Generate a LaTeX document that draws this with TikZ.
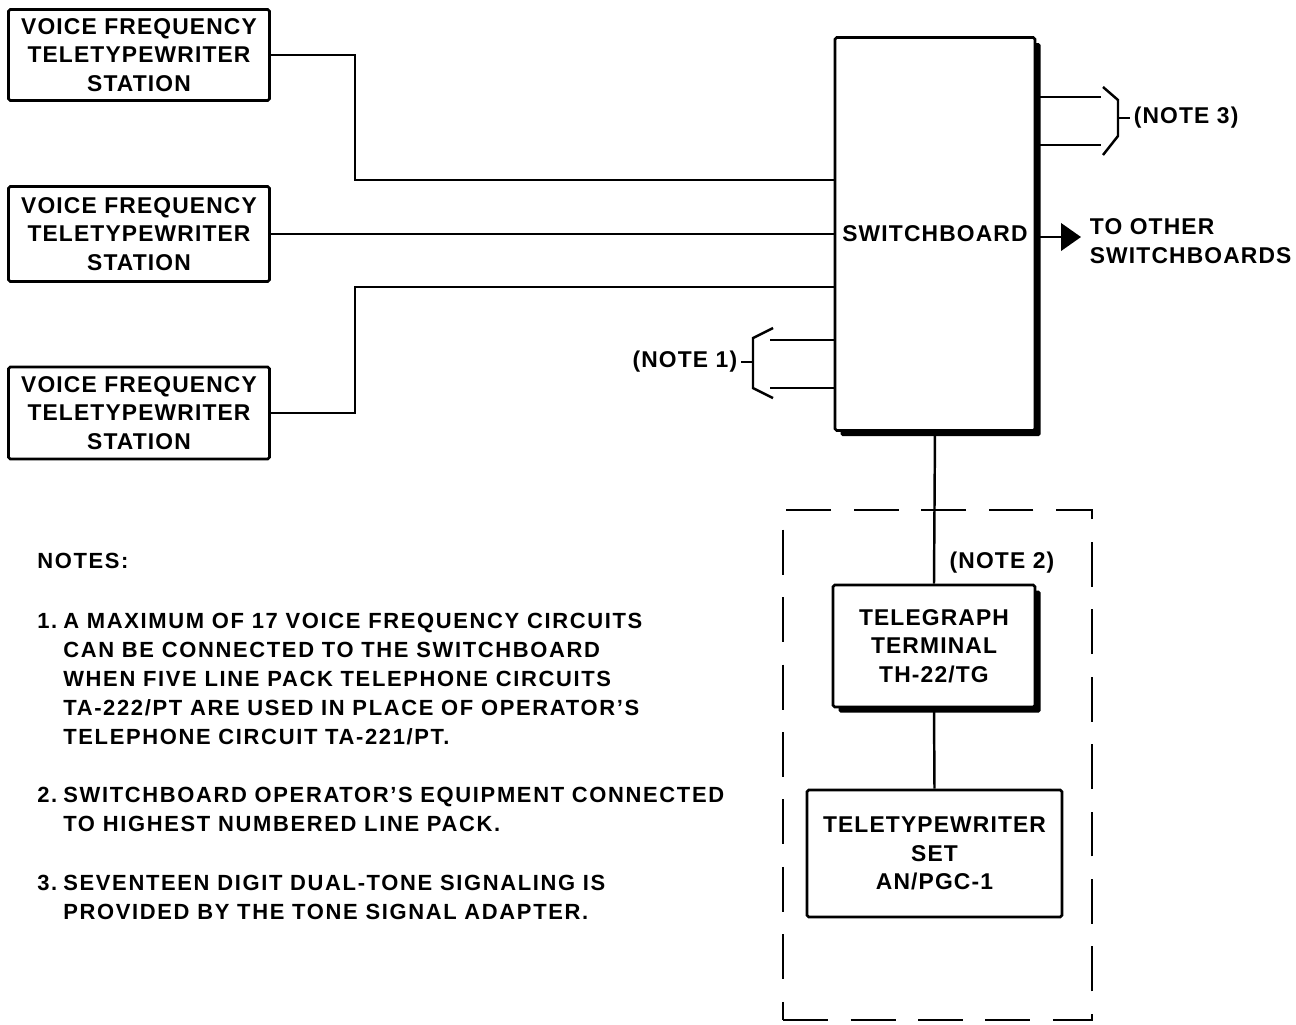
\documentclass[tikz,border=0pt]{standalone}
\usepackage{fontspec}
\setmainfont{Liberation Sans}
\usetikzlibrary{arrows.meta,positioning,shadows}
\tikzset{
  wire/.style={black, line width=1.4pt},
  frame/.style={draw=black, line width=1.4pt, dash pattern=on 0.9cm off 0.45cm},
  station/.style={draw=black, line width=1.5pt, fill=white,
                  rounded corners=1pt, inner sep=2pt, align=center,
                  font=\fontsize{13}{16.2}\selectfont\bfseries\addfontfeature{LetterSpace=5}},
  heavybox/.style={station, drop shadow={shadow xshift=3.2pt,
                   shadow yshift=-3.2pt, opacity=1, fill=black}},
  lab/.style={font=\fontsize{13}{16.2}\selectfont\bfseries\addfontfeature{LetterSpace=5},
              inner sep=2pt},
  notetext/.style={font=\fontsize{12.5}{16.5}\selectfont\bfseries\addfontfeature{LetterSpace=7.5},
                   inner sep=0pt, align=left},
  flow/.style={-{Triangle[length=0.4cm,width=0.55cm]}, line width=1.4pt},
}
\begin{document}
\begin{tikzpicture}[x=0.02cm,y=-0.02cm]
  \path[use as bounding box] (0,0) rectangle (1296,1025);

  \node[station, minimum width=5.22cm, minimum height=1.82cm] (vf1) at (139,55)
    {VOICE FREQUENCY\\TELETYPEWRITER\\STATION};
  \node[station, minimum width=5.22cm, minimum height=1.9cm] (vf2) at (139,234)
    {VOICE FREQUENCY\\TELETYPEWRITER\\STATION};
  \node[station, minimum width=5.22cm, minimum height=1.84cm] (vf3) at (139,413)
    {VOICE FREQUENCY\\TELETYPEWRITER\\STATION};

  \node[heavybox, minimum width=4.0cm, minimum height=7.86cm] (sb) at (935,234)
    {SWITCHBOARD};

  \coordinate (j1) at (355,180);
  \coordinate (j3) at (355,287);
  \draw[wire] (vf1.east) -| (j1) -- (j1 -| sb.west);
  \draw[wire] (vf2.east) -- (vf2.east -| sb.west);
  \draw[wire] (vf3.east) -| (j3) -- (j3 -| sb.west);

  % note 3 bracket
  \coordinate (n3a) at (1101,97);
  \coordinate (n3b) at (1101,145);
  \draw[wire] (n3a -| sb.east) -- (n3a);
  \draw[wire] (n3b -| sb.east) -- (n3b);
  \draw[wire] (1103,87) -- (1118,100) -- (1118,136) -- (1103,155);
  \node[lab, anchor=west] (note3) at (1130,118) {(NOTE 3)};
  \draw[wire] (1118,118) -- (note3.west);

  % note 1 bracket
  \coordinate (n1a) at (770,340);
  \coordinate (n1b) at (770,388);
  \draw[wire] (n1a) -- (n1a -| sb.west);
  \draw[wire] (n1b) -- (n1b -| sb.west);
  \draw[wire] (773,328) -- (753,338) -- (753,388) -- (773,398);
  \node[lab, anchor=east] (note1) at (741,362) {(NOTE 1)};
  \draw[wire] (note1.east) -- (753,362);

  \coordinate (out) at (1081,237);
  \draw[flow] (out -| sb.east) -- (out);
  \node[lab, anchor=west, align=left] (other) at (1086,241)
    {TO OTHER\\SWITCHBOARDS};

  \node[frame, minimum width=6.18cm, minimum height=10.2cm] (opset) at (937.5,765) {};
  \node[lab] (note2) at (1002,563) {(NOTE 2)};

  \node[heavybox, minimum width=4.04cm, minimum height=2.44cm] (tg) at (934,646)
    {TELEGRAPH\\TERMINAL\\TH-22/TG};
  \node[station, minimum width=5.1cm, minimum height=2.54cm] (tty) at (934.5,853.5)
    {TELETYPEWRITER\\SET\\AN/PGC-1};
  \draw[wire] (sb.south) -- (tg.north);
  \draw[wire] (tg.south) -- (tty.north);

  \node[notetext, anchor=west] (notes) at (37,561) {NOTES:};
  \node[notetext, anchor=north west] (num1) at (37,613) {1.};
  \node[notetext, anchor=north west] (txt1) at (63,613)
    {A MAXIMUM OF 17 VOICE FREQUENCY CIRCUITS\\
     CAN BE CONNECTED TO THE SWITCHBOARD\\
     WHEN FIVE LINE PACK TELEPHONE CIRCUITS\\
     TA-222/PT ARE USED IN PLACE OF OPERATOR’S\\
     TELEPHONE CIRCUIT TA-221/PT.};
  \node[notetext, anchor=north west] (num2) at (37,787) {2.};
  \node[notetext, anchor=north west] (txt2) at (63,787)
    {SWITCHBOARD OPERATOR’S EQUIPMENT CONNECTED\\
     TO HIGHEST NUMBERED LINE PACK.};
  \node[notetext, anchor=north west] (num3) at (37,875) {3.};
  \node[notetext, anchor=north west] (txt3) at (63,875)
    {SEVENTEEN DIGIT DUAL-TONE SIGNALING IS\\
     PROVIDED BY THE TONE SIGNAL ADAPTER.};
\end{tikzpicture}
\end{document}
